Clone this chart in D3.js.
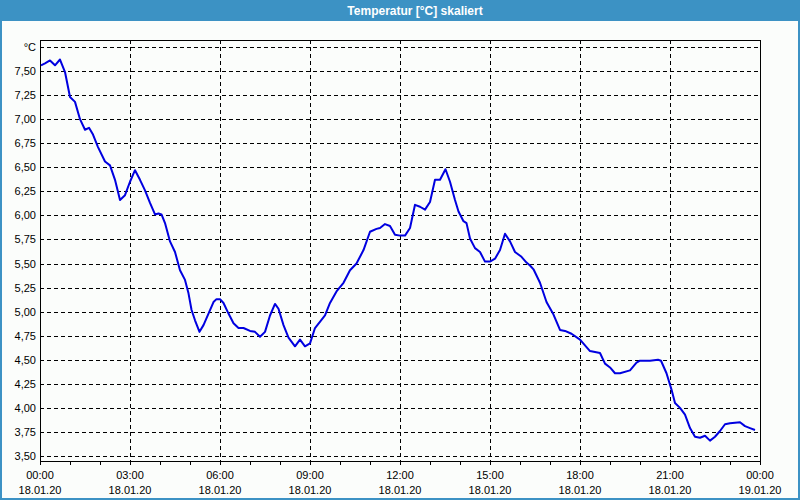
<!DOCTYPE html>
<html>
<head>
<meta charset="utf-8">
<script src="https://cdn.jsdelivr.net/npm/d3@7"></script>
<style>
  body { margin: 0; background: #3c92c4; }
  svg { display: block; }
  text { font-family: "Liberation Sans", Arial, sans-serif; }
</style>
</head>
<body>
<div id="chart"></div>
<script>
// Messwerte: Minuten seit 18.01.20 00:00 und Temperatur in °C
const minutes = [
  2, 10, 20, 30, 40, 50, 60, 70, 80, 90, 98, 106, 116, 130, 140, 150, 160, 170, 180, 190,
  200, 210, 220, 230, 237, 243, 250, 260, 270, 280, 290, 297, 303, 310, 319, 327, 337, 347, 353, 360,
  367, 377, 387, 397, 407, 420, 430, 440, 450, 460, 470, 477, 487, 497, 510, 520, 530, 540, 550, 570,
  580, 593, 607, 620, 633, 647, 660, 673, 680, 690, 700, 710, 720, 730, 740, 750, 760, 770, 780, 790,
  800, 811, 820, 830, 837, 847, 853, 860, 870, 880, 890, 900, 910, 920, 930, 940, 950, 963, 973, 980,
  987, 1000, 1013, 1027, 1040, 1050, 1063, 1080, 1090, 1100, 1120, 1130, 1140, 1150, 1160, 1180, 1193, 1200, 1220, 1236,
  1242, 1253, 1263, 1270, 1280, 1290, 1300, 1310, 1320, 1330, 1340, 1350, 1360, 1370, 1380, 1400, 1410, 1420, 1430
];
const temps = [
  7.56, 7.58, 7.61, 7.56, 7.62, 7.49, 7.23, 7.18, 7.00, 6.89, 6.91, 6.84, 6.71, 6.56, 6.52, 6.37, 6.16, 6.21, 6.35, 6.47,
  6.37, 6.26, 6.13, 6.01, 6.02, 6.01, 5.92, 5.73, 5.62, 5.43, 5.33, 5.19, 5.02, 4.91, 4.79, 4.86, 4.98, 5.10, 5.13, 5.13,
  5.09, 4.98, 4.88, 4.83, 4.83, 4.80, 4.79, 4.74, 4.79, 4.96, 5.08, 5.03, 4.86, 4.73, 4.64, 4.71, 4.64, 4.67, 4.83, 4.96,
  5.09, 5.21, 5.30, 5.43, 5.50, 5.64, 5.83, 5.86, 5.87, 5.91, 5.89, 5.80, 5.79, 5.79, 5.87, 6.11, 6.09, 6.06, 6.14, 6.37,
  6.37, 6.48, 6.35, 6.16, 6.04, 5.94, 5.92, 5.76, 5.66, 5.62, 5.52, 5.52, 5.55, 5.64, 5.81, 5.73, 5.62, 5.57, 5.51, 5.48,
  5.44, 5.30, 5.10, 4.97, 4.81, 4.80, 4.77, 4.71, 4.65, 4.59, 4.57, 4.46, 4.42, 4.36, 4.36, 4.39, 4.47, 4.49, 4.49, 4.50,
  4.49, 4.36, 4.19, 4.05, 4.00, 3.93, 3.79, 3.70, 3.69, 3.71, 3.66, 3.70, 3.76, 3.83, 3.84, 3.85, 3.81, 3.79, 3.77
];

// Achsenbeschriftung
const yTicks = [3.50, 3.75, 4.00, 4.25, 4.50, 4.75, 5.00, 5.25, 5.50, 5.75, 6.00, 6.25, 6.50, 6.75, 7.00, 7.25, 7.50];
const xTickMinutes = [0, 180, 360, 540, 720, 900, 1080, 1260, 1440];
const xTimeLabels = ["00:00", "03:00", "06:00", "09:00", "12:00", "15:00", "18:00", "21:00", "00:00"];
const xDateLabels = ["18.01.20", "18.01.20", "18.01.20", "18.01.20", "18.01.20", "18.01.20", "18.01.20", "18.01.20", "19.01.20"];
const title = "Temperatur [°C] skaliert";
const unit = "°C";

const width = 800;
const height = 500;
const plot = { left: 40, top: 40, right: 760, bottom: 461 };

const svg = d3.select("#chart")
  .append("svg")
  .attr("width", width)
  .attr("height", height);

// Fensterrahmen + Titelleiste
svg.append("rect").attr("width", width).attr("height", height).attr("fill", "#3c92c4");
svg.append("rect")
  .attr("x", 2).attr("y", 21)
  .attr("width", width - 4).attr("height", height - 23)
  .attr("fill", "#fbfdfb");
svg.append("text")
  .attr("x", 415).attr("y", 15)
  .attr("text-anchor", "middle")
  .attr("fill", "#ffffff")
  .attr("font-weight", "bold")
  .attr("font-size", 12)
  .text(title);

const x = d3.scaleLinear().domain([0, 1440]).range([plot.left, plot.right]);
const y = d3.scaleLinear().domain([3.5, 7.75]).range([456, 47]);

const fmt = v => d3.format(".2f")(v).replace(".", ",");

// Gitterlinien horizontal
const gridY = yTicks.concat([7.75]);
svg.append("g")
  .selectAll("line")
  .data(gridY)
  .join("line")
  .attr("x1", plot.left).attr("x2", plot.right)
  .attr("y1", d => Math.round(y(d)) + 0.5)
  .attr("y2", d => Math.round(y(d)) + 0.5)
  .attr("stroke", "#000")
  .attr("stroke-dasharray", "4,3")
  .attr("shape-rendering", "crispEdges");

// Gitterlinien vertikal
svg.append("g")
  .selectAll("line")
  .data(xTickMinutes.slice(1, -1))
  .join("line")
  .attr("x1", d => Math.round(x(d)) + 0.5)
  .attr("x2", d => Math.round(x(d)) + 0.5)
  .attr("y1", plot.top).attr("y2", plot.bottom)
  .attr("stroke", "#000")
  .attr("stroke-dasharray", "4,3")
  .attr("shape-rendering", "crispEdges");

// Rahmen
svg.append("rect")
  .attr("x", plot.left + 0.5).attr("y", plot.top + 0.5)
  .attr("width", plot.right - plot.left).attr("height", plot.bottom - plot.top)
  .attr("fill", "none")
  .attr("stroke", "#000")
  .attr("shape-rendering", "crispEdges");

// kleine Stundenstriche unter der x-Achse
svg.append("g")
  .selectAll("line")
  .data(d3.range(0, 1441, 60))
  .join("line")
  .attr("x1", d => Math.round(x(d)) + 0.5)
  .attr("x2", d => Math.round(x(d)) + 0.5)
  .attr("y1", plot.bottom).attr("y2", plot.bottom + 4)
  .attr("stroke", "#000")
  .attr("shape-rendering", "crispEdges");

// y-Beschriftung
svg.append("g")
  .selectAll("text")
  .data(yTicks)
  .join("text")
  .attr("x", 36)
  .attr("y", d => y(d) + 4)
  .attr("text-anchor", "end")
  .attr("font-size", 11)
  .attr("fill", "#000")
  .text(fmt);
svg.append("text")
  .attr("x", 36).attr("y", y(7.75) + 4)
  .attr("text-anchor", "end")
  .attr("font-size", 11)
  .text(unit);

// x-Beschriftung
const xl = svg.append("g")
  .selectAll("g")
  .data(xTickMinutes)
  .join("g")
  .attr("transform", d => `translate(${x(d)},0)`);
xl.append("text")
  .attr("y", 479)
  .attr("text-anchor", "middle")
  .attr("font-size", 11)
  .text((d, i) => xTimeLabels[i]);
xl.append("text")
  .attr("y", 494)
  .attr("text-anchor", "middle")
  .attr("font-size", 11)
  .text((d, i) => xDateLabels[i]);

// Temperaturkurve
const line = d3.line()
  .x(d => x(d[0]))
  .y(d => y(d[1]));

svg.append("path")
  .datum(minutes.map((m, i) => [m, temps[i]]))
  .attr("d", line)
  .attr("fill", "none")
  .attr("stroke", "#0000e0")
  .attr("stroke-width", 2)
  .attr("stroke-linejoin", "round");
</script>
</body>
</html>
